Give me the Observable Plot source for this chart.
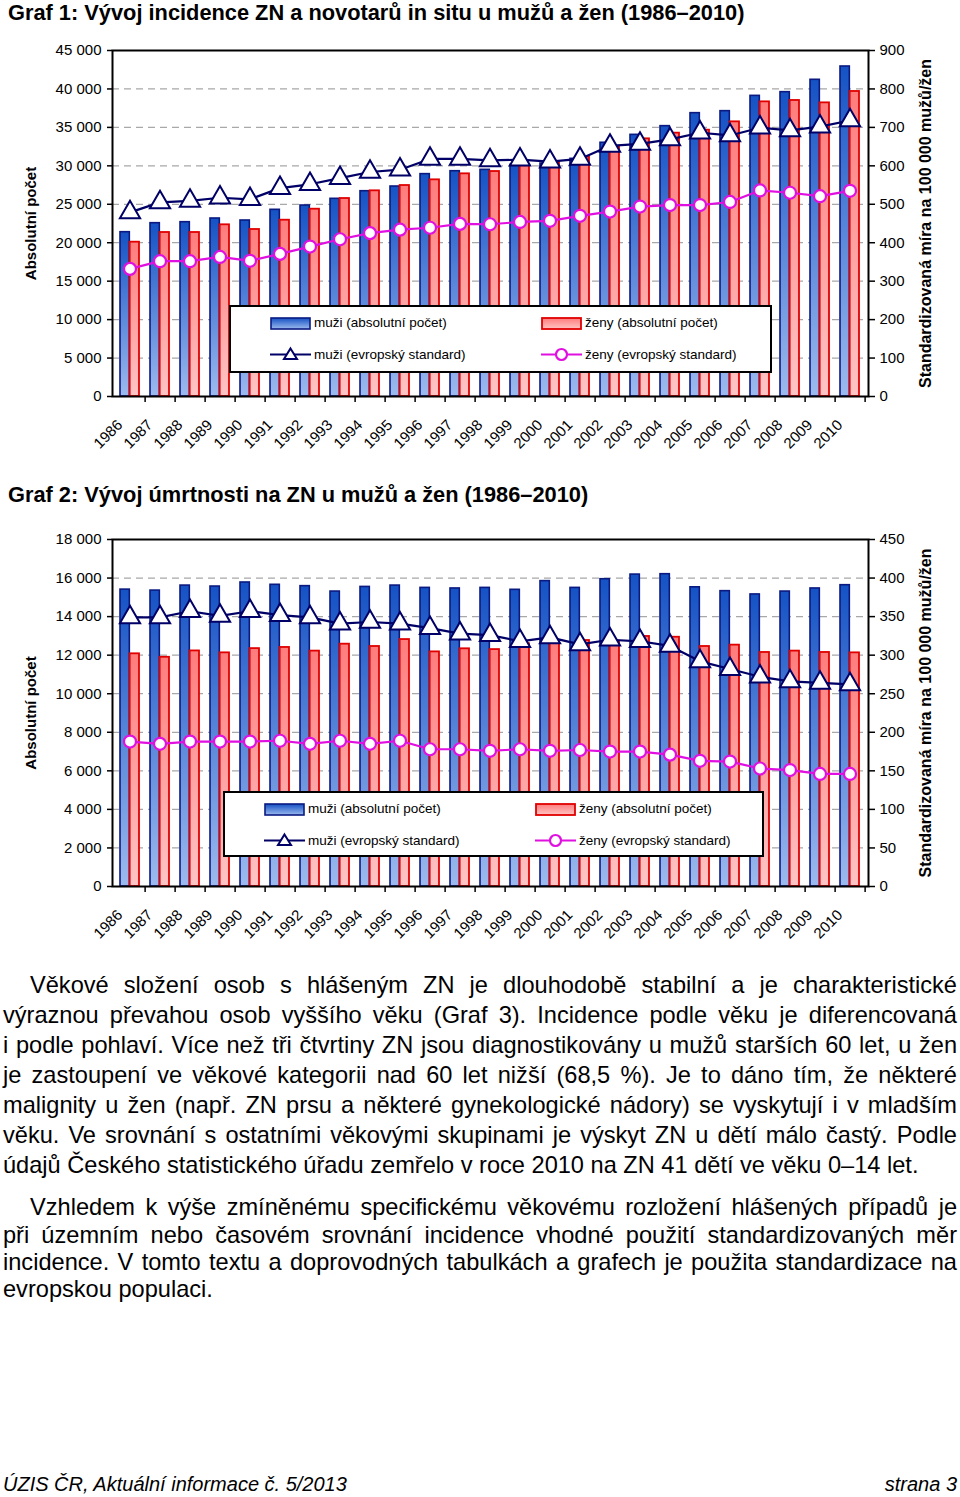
<!DOCTYPE html>
<html><head><meta charset="utf-8">
<script src="https://cdn.jsdelivr.net/npm/d3@7"></script>
<script src="https://cdn.jsdelivr.net/npm/@observablehq/plot@0.6"></script>
<style>
body{margin:0;background:#fff;font-family:"Liberation Sans",Arial,sans-serif;color:#000;}
#page{position:relative;width:960px;height:1497px;overflow:hidden;background:#fff;}
.title{position:absolute;left:8px;font-weight:bold;font-size:21.8px;line-height:24px;white-space:nowrap;}
.chart{position:absolute;left:0;}
.legend{position:absolute;background:#fff;border:2px solid #000;box-sizing:border-box;font-size:13.5px;z-index:2;}
.li{position:absolute;white-space:nowrap;line-height:16px;}
.sw{position:absolute;}
.tl{position:absolute;left:3px;width:954px;font-size:23.6px;line-height:26px;text-align:justify;text-align-last:justify;}
.tl.last{text-align-last:left;}
.foot{position:absolute;top:1472px;font-style:italic;font-size:20px;line-height:24px;white-space:nowrap;}
</style>
</head><body>
<div id="page"></div>
<script>
// ---------- data ----------
const years = ["1986","1987","1988","1989","1990","1991","1992","1993","1994","1995","1996","1997","1998","1999","2000","2001","2002","2003","2004","2005","2006","2007","2008","2009","2010"];

// Graf 1 – incidence
const incMen      = [21370,22540,22670,23150,22890,24280,24840,25710,26700,27310,28920,29300,29480,30130,30300,30910,33000,34030,35160,36850,37110,39100,39580,41190,42920];
const incWomen    = [20070,21330,21330,22330,21720,22930,24360,25750,26750,27440,28180,28960,29260,30000,30430,31130,32510,33510,34250,34640,35720,38320,38500,38190,39670];
const incMenStd   = [479,505,509,517,513,542,552,568,584,590,618,618,614,616,611,618,652,657,669,686,679,699,692,702,718];
const incWomenStd = [332,352,352,363,353,371,390,409,425,434,439,449,448,454,457,470,481,494,498,498,506,536,530,521,535];

// Graf 2 – mortality
const mortMen      = [15400,15350,15610,15560,15770,15650,15580,15300,15540,15610,15490,15460,15490,15390,15840,15490,15940,16180,16200,15520,15320,15150,15300,15460,15630];
const mortWomen    = [12070,11890,12220,12120,12340,12400,12210,12570,12450,12810,12170,12330,12290,12590,12640,12760,12720,12970,12930,12450,12520,12140,12210,12140,12120];
const mortMenStd   = [349,349,357,351,357,352,349,341,343,341,335,328,326,318,323,314,320,318,312,292,282,272,266,264,262];
const mortWomenStd = [188,185,188,188,188,189,185,189,185,189,178,178,176,178,176,177,175,175,171,163,162,153,151,146,146];

const titles = [
  "Graf 1: Vývoj incidence ZN a novotarů in situ u mužů a žen (1986–2010)",
  "Graf 2: Vývoj úmrtnosti na ZN u mužů a žen (1986–2010)"
];
const leftAxisTitle = "Absolutní počet";
const rightAxisTitle = "Standardizovaná míra na 100 000 mužů/žen";
const legendLabels = ["muži (absolutní počet)", "ženy (absolutní počet)", "muži (evropský standard)", "ženy (evropský standard)"];

const para1 = [
  "Věkové složení osob s\u00a0hlášeným ZN je dlouhodobě stabilní a je charakteristické",
  "výraznou převahou osob vyššího věku (Graf 3). Incidence podle věku je diferencovaná",
  "i podle pohlaví. Více než tři čtvrtiny ZN jsou diagnostikovány u mužů starších 60 let, u žen",
  "je zastoupení ve věkové kategorii nad 60 let nižší (68,5 %). Je to dáno tím, že některé",
  "malignity u žen (např. ZN prsu a některé gynekologické nádory) se vyskytují i v mladším",
  "věku. Ve srovnání s ostatními věkovými skupinami je výskyt ZN u dětí málo častý. Podle",
  "údajů Českého statistického úřadu zemřelo v roce 2010 na ZN 41 dětí ve věku 0–14 let."
];
const para2 = [
  "Vzhledem k výše zmíněnému specifickému věkovému rozložení hlášených případů je",
  "při územním nebo časovém srovnání incidence vhodné použití standardizovaných měr",
  "incidence. V tomto textu a doprovodných tabulkách a grafech je použita standardizace na",
  "evropskou populaci."
];
const footLeft = "ÚZIS ČR, Aktuální informace č. 5/2013";
const footRight = "strana 3";

// ---------- helpers ----------
const page = document.getElementById("page");
const NS = "http://www.w3.org/2000/svg";
const loc = d3.formatLocale({decimal: ",", thousands: "\u00a0", grouping: [3], currency: ["", ""]});
const fmtThousands = loc.format(",");

const BLUE_STROKE = "#0b1a80", RED_STROKE = "#e00000", MEN_LINE = "#000066", WOMEN_LINE = "#e010e0";

function gradDefs(id) {
  return () => {
    const defs = document.createElementNS(NS, "defs");
    defs.innerHTML =
      `<linearGradient id="gb${id}" x1="0" y1="0" x2="0" y2="1">
         <stop offset="0" stop-color="#1552c4"/><stop offset="1" stop-color="#9cbaee"/></linearGradient>
       <linearGradient id="gr${id}" x1="0" y1="0" x2="0" y2="1">
         <stop offset="0" stop-color="#ff7c7c"/><stop offset="1" stop-color="#ffc4c4"/></linearGradient>`;
    return defs;
  };
}

function makeChart(id, men, women, menStd, womenStd, yMax, yStep, rMax, rStep) {
  const k = yMax / rMax;
  const data = years.map((y, i) => ({year: y, men: men[i], women: women[i], menStd: menStd[i] * k, womenStd: womenStd[i] * k}));
  const leftTicks = d3.range(0, yMax + 1, yStep);
  const rightTicks = d3.range(0, rMax + 1, rStep);
  const mL = 112, mR = 92;
  const step = (960 - mL - mR) / years.length;
  const half = step * 0.64 / 2;
  return Plot.plot({
    width: 960, height: 430,
    marginTop: id === 1 ? 20 : 19, marginBottom: 64, marginLeft: mL, marginRight: mR,
    style: {fontFamily: "'Liberation Sans', Arial, sans-serif", fontSize: "15px", color: "#000", background: "transparent", overflow: "visible"},
    x: {type: "band", domain: years, paddingInner: 0.36, paddingOuter: 0.18, label: null},
    y: {domain: [0, yMax], label: null},
    marks: [
      gradDefs(id),
      Plot.gridY(leftTicks.slice(1, -1), {stroke: "#a8a8a8", strokeOpacity: 1, strokeWidth: 1.2, strokeDasharray: "7,5"}),
      Plot.barY(data, {x: "year", y: "men", fill: `url(#gb${id})`, stroke: BLUE_STROKE, strokeWidth: 1.6, insetRight: half}),
      Plot.barY(data, {x: "year", y: "women", fill: `url(#gr${id})`, stroke: RED_STROKE, strokeWidth: 1.8, insetLeft: half}),
      Plot.line(data, {x: "year", y: "menStd", stroke: MEN_LINE, strokeWidth: 2.2}),
      Plot.dot(data, {x: "year", y: "menStd", symbol: "triangle", r: 7.5, fill: "white", stroke: MEN_LINE, strokeWidth: 2}),
      Plot.line(data, {x: "year", y: "womenStd", stroke: WOMEN_LINE, strokeWidth: 2.2}),
      Plot.dot(data, {x: "year", y: "womenStd", symbol: "circle", r: 6, fill: "white", stroke: WOMEN_LINE, strokeWidth: 2.2}),
      Plot.frame({stroke: "#000", strokeWidth: 2}),
      Plot.axisY(leftTicks, {anchor: "left", tickSize: 5, tickPadding: 6, strokeWidth: 1.5, tickFormat: fmtThousands, label: null}),
      Plot.axisY(rightTicks.map(t => t * k), {anchor: "right", tickSize: 6, tickPadding: 5, strokeWidth: 1.5, tickFormat: d => String(Math.round(d / k)), label: null}),
      Plot.axisX({tickSize: 0, tickRotate: -45, tickPadding: 26, dx: -10, label: null}),
      Plot.axisX({tickSize: 6, strokeWidth: 1.5, tickFormat: () => "", dx: step / 2, label: null}),
      Plot.text([leftAxisTitle], {frameAnchor: "left", textAnchor: "middle", dx: -81, rotate: -90, fontWeight: "bold", fontSize: 15}),
      Plot.text([rightAxisTitle], {frameAnchor: "right", textAnchor: "middle", dx: 57, rotate: -90, fontWeight: "bold", fontSize: 16})
    ]
  });
}

function addLegend(left, top, width, height, id) {
  const box = document.createElement("div");
  box.className = "legend";
  Object.assign(box.style, {left: left + "px", top: top + "px", width: width + "px", height: height + "px"});
  const rows = [16, 47.5];
  const cols = [[39, 83], [310, 354]];
  const swatches = [
    `<svg width="41" height="13"><defs><linearGradient id="lgb${id}" x1="0" y1="0" x2="0" y2="1"><stop offset="0" stop-color="#1552c4"/><stop offset="1" stop-color="#9cbaee"/></linearGradient></defs><rect x="1" y="1" width="39" height="11" fill="url(#lgb${id})" stroke="${BLUE_STROKE}" stroke-width="1.6"/></svg>`,
    `<svg width="41" height="13"><defs><linearGradient id="lgr${id}" x1="0" y1="0" x2="0" y2="1"><stop offset="0" stop-color="#ff7c7c"/><stop offset="1" stop-color="#ffc4c4"/></linearGradient></defs><rect x="1" y="1" width="39" height="11" fill="url(#lgr${id})" stroke="${RED_STROKE}" stroke-width="1.8"/></svg>`,
    `<svg width="41" height="17"><line x1="0" y1="8.5" x2="41" y2="8.5" stroke="${MEN_LINE}" stroke-width="2.2"/><path d="M20.5,2.5 L27,13 L14,13 Z" fill="white" stroke="${MEN_LINE}" stroke-width="2"/></svg>`,
    `<svg width="41" height="17"><line x1="0" y1="8.5" x2="41" y2="8.5" stroke="${WOMEN_LINE}" stroke-width="2.2"/><circle cx="20.5" cy="8.5" r="5.5" fill="white" stroke="${WOMEN_LINE}" stroke-width="2.2"/></svg>`
  ];
  [[0, 0], [1, 1], [2, 0], [3, 1]].forEach(([i, c], n) => {
    const r = rows[n < 2 ? 0 : 1];
    const sw = document.createElement("div");
    sw.className = "sw";
    sw.innerHTML = swatches[i];
    const hh = i < 2 ? 13 : 17;
    Object.assign(sw.style, {left: cols[c][0] + "px", top: (r - hh / 2) + "px", height: hh + "px", lineHeight: "0"});
    box.appendChild(sw);
    const t = document.createElement("div");
    t.className = "li";
    t.textContent = legendLabels[i];
    Object.assign(t.style, {left: cols[c][1] + "px", top: (r - 8) + "px"});
    box.appendChild(t);
  });
  page.appendChild(box);
}

function addTitle(text, top) {
  const d = document.createElement("div");
  d.className = "title";
  d.style.top = top + "px";
  d.textContent = text;
  page.appendChild(d);
}

function addChart(svg, top) {
  const w = document.createElement("div");
  w.className = "chart";
  w.style.top = top + "px";
  w.appendChild(svg);
  page.appendChild(w);
}

function addLines(lines, centers, indent) {
  lines.forEach((s, i) => {
    const d = document.createElement("div");
    d.className = "tl" + (i === lines.length - 1 ? " last" : "");
    d.style.top = (centers[i] - 13) + "px";
    if (i === 0) d.style.textIndent = indent + "px";
    d.textContent = s;
    page.appendChild(d);
  });
}

// ---------- build ----------
addTitle(titles[0], 1);
addChart(makeChart(1, incMen, incWomen, incMenStd, incWomenStd, 45000, 5000, 900, 100), 30);
addLegend(229, 305, 543, 68, 1);

addTitle(titles[1], 483);
addChart(makeChart(2, mortMen, mortWomen, mortMenStd, mortWomenStd, 18000, 2000, 450, 50), 520);
addLegend(223, 791, 541, 66, 2);

addLines(para1, [985, 1015, 1045, 1075, 1105, 1135, 1165], 27);
addLines(para2, [1207, 1235, 1262, 1289], 27);

const fl = document.createElement("div");
fl.className = "foot"; fl.style.left = "3px"; fl.textContent = footLeft; page.appendChild(fl);
const fr = document.createElement("div");
fr.className = "foot"; fr.style.right = "3px"; fr.textContent = footRight; page.appendChild(fr);
</script>
</body></html>
